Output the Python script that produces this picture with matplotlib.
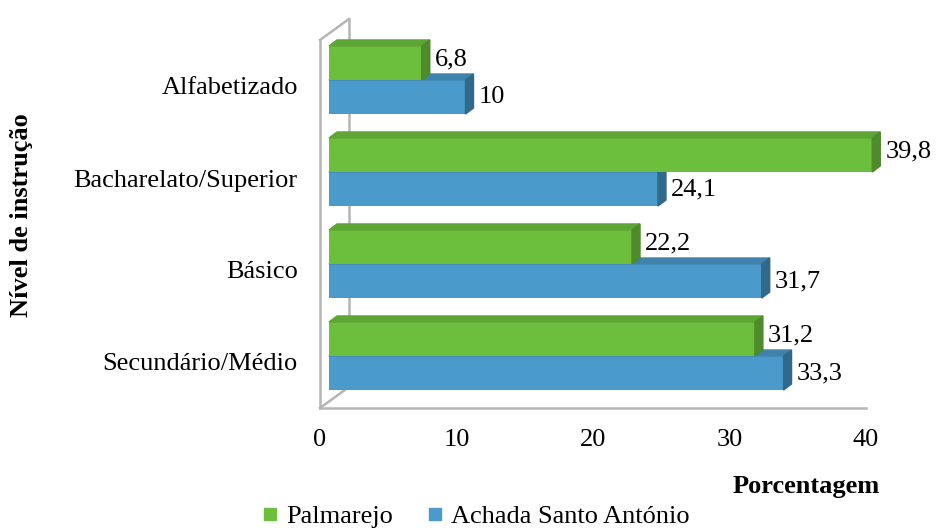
import matplotlib.pyplot as plt
from matplotlib.patches import Polygon
from matplotlib.lines import Line2D
from matplotlib.transforms import ScaledTranslation

# dados
categorias = ['Secundário/Médio', 'Básico', 'Bacharelato/Superior', 'Alfabetizado']
palmarejo = [31.2, 22.2, 39.8, 6.8]
achada = [33.3, 31.7, 24.1, 10.0]
series = ['Palmarejo', 'Achada Santo António']
xticks = [0, 10, 20, 30, 40]

plt.rcParams['font.family'] = ['Liberation Serif', 'DejaVu Serif']
FS = 19

W, H = 943, 530
L, B, AW, AH = 320, 122, 546, 368
fig = plt.figure(figsize=(W / 100, H / 100), dpi=100)
ax = fig.add_axes([L / W, B / H, AW / W, AH / H])
ax.set_xlim(0, 40)
ax.set_ylim(-0.5, 3.5)
sx = 40 / AW  # dados por pixel
sy = 4 / AH

# efeito 3D (deslocamentos em pixels)
wall = (29, 21)
front = (9, 6)
back = (17, 12)
h = 0.37

cores = {
    'Palmarejo': ('#6CBF3C', '#5DA535', '#4E8B2B'),
    'Achada Santo António': ('#4A9BCB', '#3F83AC', '#30698A'),
}


def p(x, y, d):
    return (x + d[0] * sx, y + d[1] * sy)


def shift(dx, dy):
    return ax.transData + ScaledTranslation(dx / 100, dy / 100, fig.dpi_scale_trans)


# moldura
gray = '#B5B5B5'
ax.plot([0, 0], [-0.5, 3.5], color=gray, lw=1.8, clip_on=False, zorder=1)
ax.plot([0, 40], [-0.5, -0.5], color=gray, lw=1.8, clip_on=False, zorder=1)
for yy in (-0.5, 3.5):
    a = p(0, yy, wall)
    ax.plot([0, a[0]], [yy, a[1]], color=gray, lw=1.8, clip_on=False, zorder=1)
b0, b1 = p(0, -0.5, wall), p(0, 3.5, wall)
ax.plot([b0[0], b1[0]], [b0[1], b1[1]], color=gray, lw=1.8, clip_on=False, zorder=1)

ys = list(range(len(categorias)))


def fmt(v):
    return str(int(v)) if v == int(v) else f'{v:.1f}'.replace('.', ',')


for nome, vals, sign in [('Achada Santo António', achada, -1), ('Palmarejo', palmarejo, 1)]:
    cf, ct, cs = cores[nome]
    for y, v in zip(ys, vals):
        bot = y if sign > 0 else y - h
        top = bot + h
        ax.barh(bot, v, height=h, align='edge', color=cf, transform=shift(*front),
                clip_on=False, zorder=3)
        ax.add_patch(Polygon([p(0, top, front), p(v, top, front), p(v, top, back), p(0, top, back)],
                             closed=True, color=ct, clip_on=False, zorder=3))
        ax.add_patch(Polygon([p(v, bot, front), p(v, top, front), p(v, top, back), p(v, bot, back)],
                             closed=True, color=cs, clip_on=False, zorder=3))
        dy = 4 if sign > 0 else 0
        ax.text(v, (bot + top) / 2, fmt(v), transform=shift(back[0] + 5, front[1] + dy),
                ha='left', va='center', fontsize=FS, zorder=4)

for s in ax.spines.values():
    s.set_visible(False)
ax.set_xticks(xticks)
ax.set_xticklabels([str(t) for t in xticks], fontsize=FS)
ax.set_yticks(ys)
ax.set_yticklabels(categorias, fontsize=FS)
ax.tick_params(axis='x', length=0, pad=15)
ax.tick_params(axis='y', length=0, pad=16)

fig.text(22 / W, 1 - 215 / H, 'Nível de instrução', rotation=90, ha='center', va='center',
         fontsize=FS, fontweight='bold')
fig.text(880 / W, 1 - 487 / H, 'Porcentagem', ha='right', va='center',
         fontsize=FS, fontweight='bold')

handles = [Line2D([], [], marker='s', ls='', markersize=9, color=cores[n][0]) for n in series]
fig.legend(handles, series, loc='center', bbox_to_anchor=(476 / W, 1 - 516 / H), ncol=2,
           frameon=False, fontsize=FS, handlelength=0.6, handletextpad=0.3,
           columnspacing=1.3, borderpad=0)

fig.savefig('out.png', dpi=100)
